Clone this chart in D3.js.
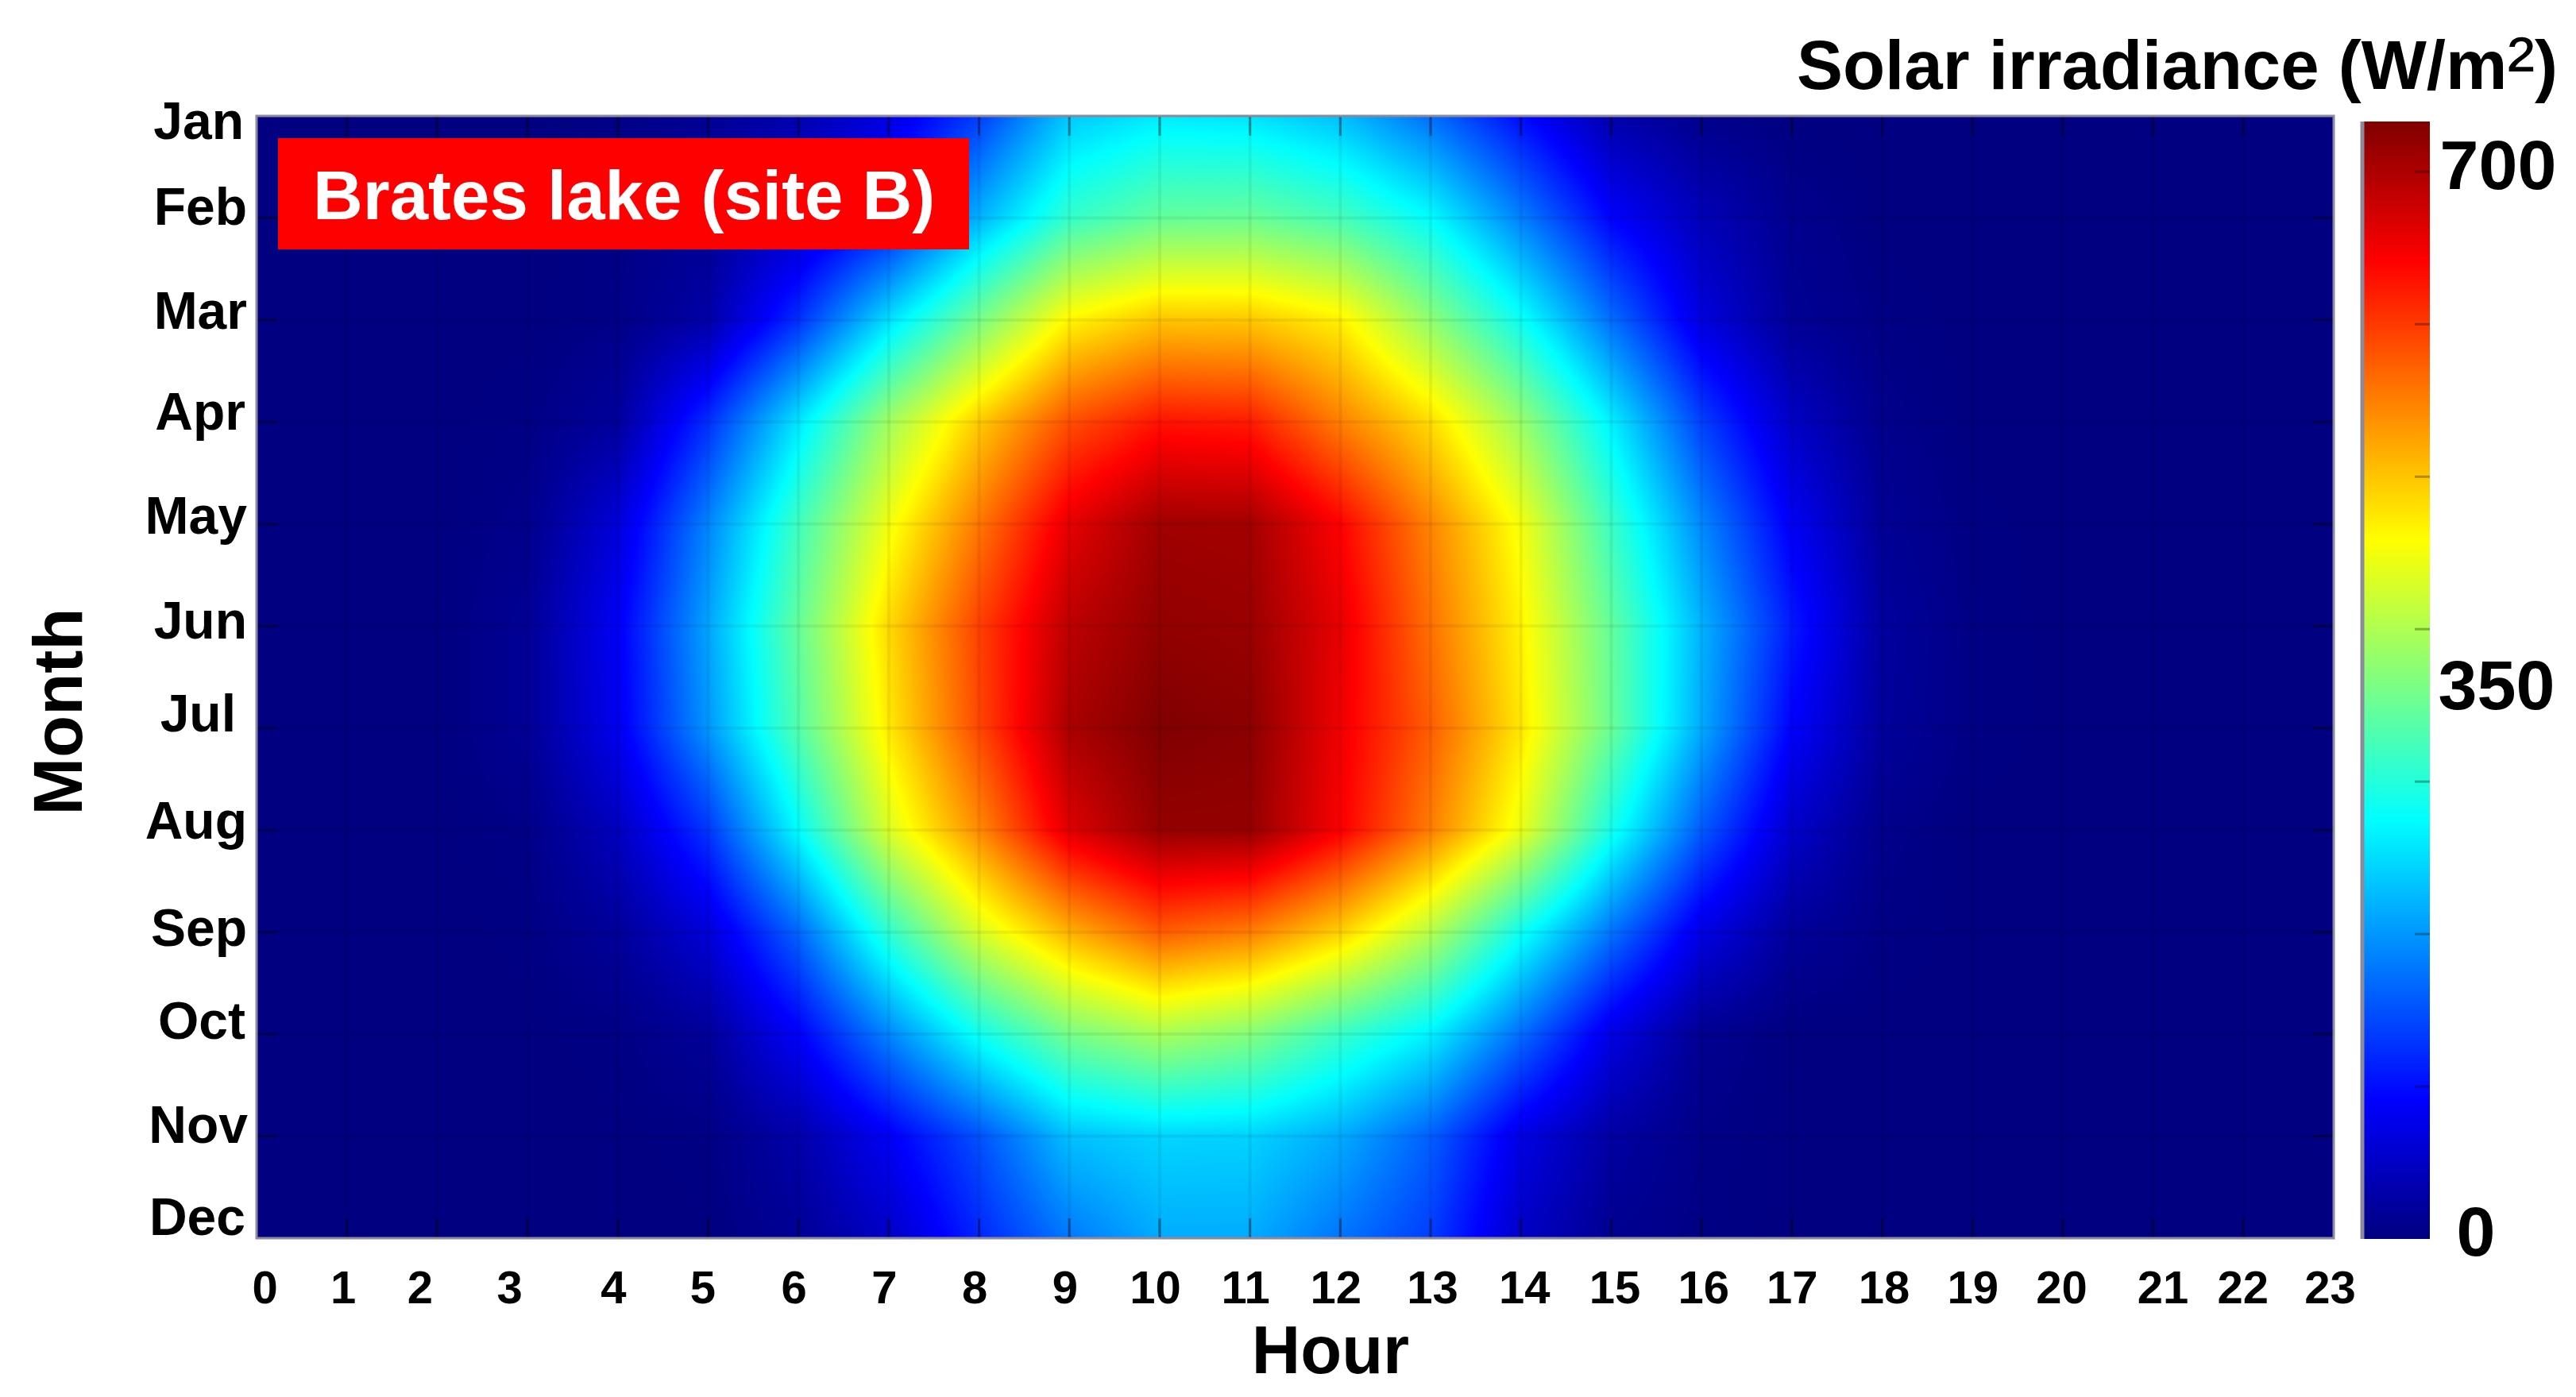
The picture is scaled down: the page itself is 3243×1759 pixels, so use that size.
<!DOCTYPE html>
<html>
<head>
<meta charset="utf-8">
<script src="https://cdn.jsdelivr.net/npm/d3@7"></script>
<style>
  html, body { margin: 0; padding: 0; background: #fff; }
  svg { display: block; }
  text { font-family: "Liberation Sans", Arial, sans-serif; font-weight: bold; fill: #000; }
</style>
</head>
<body>
<script>
const months = ["Jan", "Feb", "Mar", "Apr", "May", "Jun", "Jul", "Aug", "Sep", "Oct", "Nov", "Dec"];
const hours = d3.range(0, 24);
const colorbarTicks = [0, 100, 200, 300, 400, 500, 600, 700];
const colorbarLabels = [0, 350, 700];
const maxValue = 733;

// W/m2 for hours 0..23 at the grid crossings
const jan = [0, 0, 0, 0, 5, 15, 35, 70, 135, 235, 260, 255, 228, 170, 98, 30, 8, 0, 0, 0, 0, 0, 0, 0];
const feb = [0, 0, 0, 0, 3, 12, 45, 105, 220, 313, 347, 350, 325, 275, 184, 92, 40, 10, 0, 0, 0, 0, 0, 0];
const mar = [0, 0, 0, 0, 5, 28, 126, 253, 360, 465, 500, 498, 468, 377, 283, 171, 68, 15, 3, 0, 0, 0, 0, 0];
const apr = [0, 0, 0, 3, 20, 125, 258, 390, 496, 585, 628, 622, 550, 483, 385, 265, 138, 50, 8, 0, 0, 0, 0, 0];
const may = [0, 0, 0, 8, 64, 187, 321, 448, 556, 660, 710, 708, 641, 546, 450, 317, 190, 84, 15, 2, 0, 0, 0, 0];
const jun = [0, 0, 0, 15, 85, 210, 347, 485, 595, 690, 720, 715, 658, 560, 466, 346, 220, 110, 22, 3, 0, 0, 0, 0];
const jul = [0, 0, 0, 15, 80, 200, 335, 473, 590, 703, 733, 725, 652, 574, 475, 350, 214, 90, 20, 3, 0, 0, 0, 0];
const aug = [0, 0, 0, 5, 45, 130, 275, 431, 542, 665, 718, 718, 645, 551, 443, 290, 157, 53, 8, 0, 0, 0, 0, 0];
const sep = [0, 0, 0, 2, 18, 63, 165, 308, 429, 514, 575, 551, 491, 404, 285, 175, 72, 18, 3, 0, 0, 0, 0, 0];
const oct = [0, 0, 0, 0, 3, 18, 88, 187, 285, 360, 395, 370, 315, 265, 170, 72, 12, 0, 0, 0, 0, 0, 0, 0];
const nov = [0, 0, 0, 0, 0, 3, 30, 85, 150, 230, 245, 243, 215, 160, 72, 25, 5, 0, 0, 0, 0, 0, 0, 0];
const dec = [0, 0, 0, 0, 0, 0, 15, 50, 118, 178, 215, 215, 175, 135, 50, 12, 3, 0, 0, 0, 0, 0, 0, 0];
const irradiance = [jan, feb, mar, apr, may, jun, jul, aug, sep, oct, nov, dec];

// hand placed labels in the original, shift from the tick in px
const hourLabelShift = [10, -5, -22, -23, -6, -7, -6, -6, -6, -6, -6, -6, -6, 2, 4, 4, 2, 0, 2, 0, -2, 12, -1, -5];
const monthLabelShift = [28, 8, 11, 9, 12, 15, 4, 10, 17, 5, 8, -5];
const monthLabelEnd = [-16, -12, -12, -14, -12, -12, -26, -12, -12, -14, -11, -14];
const colorLabelShift = { 0: [58, 21], 350: [84, 5], 700: [86, 22] };

const width = 3243, height = 1759;
const plot = { left: 323, right: 2938, top: 146, bottom: 1559 };
const bar = { left: 2974, right: 3059, top: 153, bottom: 1560 };

const x = d3.scaleLinear().domain([0, 23]).range([plot.left, plot.right]);
const y = d3.scaleLinear().domain([0, 11]).range([plot.top, plot.bottom]);
const barY = d3.scaleLinear().domain([0, maxValue]).range([bar.bottom, bar.top]);

// jet
const jet = d3.scaleLinear()
    .domain([0, 0.125, 0.375, 0.625, 0.875, 1].map(function (d) { return d * maxValue; }))
    .range(["#000080", "#0000ff", "#00ffff", "#ffff00", "#ff0000", "#800000"])
    .clamp(true);

// bilinear between the grid crossings, like shading interp
function drawField() {
    const w = plot.right - plot.left, h = plot.bottom - plot.top;
    const canvas = document.createElement("canvas");
    canvas.width = w;
    canvas.height = h;
    const ctx = canvas.getContext("2d");
    const img = ctx.createImageData(w, h);

    for (let py = 0; py < h; py++) {
        const v = y.invert(plot.top + py + 0.5);
        const j = Math.min(Math.floor(v), 10);
        const fy = v - j;
        for (let px = 0; px < w; px++) {
            const u = x.invert(plot.left + px + 0.5);
            const i = Math.min(Math.floor(u), 22);
            const fx = u - i;
            const top = irradiance[j][i] * (1 - fx) + irradiance[j][i + 1] * fx;
            const bot = irradiance[j + 1][i] * (1 - fx) + irradiance[j + 1][i + 1] * fx;
            const col = d3.rgb(jet(top * (1 - fy) + bot * fy));
            const o = (py * w + px) * 4;
            img.data[o] = col.r;
            img.data[o + 1] = col.g;
            img.data[o + 2] = col.b;
            img.data[o + 3] = 255;
        }
    }
    ctx.putImageData(img, 0, 0);
    return canvas.toDataURL("image/png");
}

const svg = d3.select("body").append("svg")
    .attr("width", width)
    .attr("height", height);

svg.append("image")
    .attr("x", plot.left)
    .attr("y", plot.top)
    .attr("width", plot.right - plot.left)
    .attr("height", plot.bottom - plot.top)
    .attr("preserveAspectRatio", "none")
    .attr("href", drawField());

// faint grid
const grid = svg.append("g").attr("stroke", "#000").attr("stroke-opacity", 0.06).attr("stroke-width", 4);
grid.selectAll("line.v").data(hours.slice(1, 23)).enter().append("line")
    .attr("class", "v")
    .attr("x1", function (d) { return x(d); })
    .attr("x2", function (d) { return x(d); })
    .attr("y1", plot.top)
    .attr("y2", plot.bottom);
grid.selectAll("line.h").data(d3.range(1, 11)).enter().append("line")
    .attr("class", "h")
    .attr("y1", function (d) { return y(d); })
    .attr("y2", function (d) { return y(d); })
    .attr("x1", plot.left)
    .attr("x2", plot.right);

// inward ticks on all four sides
const ticks = svg.append("g").attr("stroke", "#000").attr("stroke-opacity", 0.38).attr("stroke-width", 3);
hours.slice(1, 23).forEach(function (d) {
    ticks.append("line").attr("x1", x(d)).attr("x2", x(d)).attr("y1", plot.bottom).attr("y2", plot.bottom - 25);
    ticks.append("line").attr("x1", x(d)).attr("x2", x(d)).attr("y1", plot.top).attr("y2", plot.top + 25);
});
d3.range(1, 11).forEach(function (d) {
    ticks.append("line").attr("y1", y(d)).attr("y2", y(d)).attr("x1", plot.left).attr("x2", plot.left + 26);
    ticks.append("line").attr("y1", y(d)).attr("y2", y(d)).attr("x1", plot.right).attr("x2", plot.right - 26);
});

svg.append("rect")
    .attr("x", plot.left)
    .attr("y", plot.top)
    .attr("width", plot.right - plot.left)
    .attr("height", plot.bottom - plot.top)
    .attr("fill", "none")
    .attr("stroke", "#8a8a9a")
    .attr("stroke-width", 3);

// hour axis
const xAxis = svg.append("g")
    .attr("transform", "translate(0," + plot.bottom + ")")
    .call(d3.axisBottom(x).tickValues(hours).tickFormat(d3.format("d")).tickSize(0));
xAxis.select(".domain").remove();
xAxis.selectAll("text")
    .attr("font-size", 58)
    .attr("dy", 0)
    .attr("y", 82)
    .attr("x", function (d) { return hourLabelShift[d]; });

// month axis
const yAxis = svg.append("g")
    .attr("transform", "translate(" + plot.left + ",0)")
    .call(d3.axisLeft(y).tickValues(d3.range(0, 12)).tickFormat(function (d) { return months[d]; }).tickSize(0));
yAxis.select(".domain").remove();
yAxis.selectAll("text")
    .attr("font-size", 66)
    .attr("dy", 0)
    .attr("y", function (d) { return monthLabelShift[d]; })
    .attr("x", function (d) { return monthLabelEnd[d]; });

svg.append("text")
    .attr("x", 1675)
    .attr("y", 1729)
    .attr("text-anchor", "middle")
    .attr("font-size", 85)
    .text("Hour");

svg.append("text")
    .attr("transform", "translate(103,896) rotate(-90)")
    .attr("text-anchor", "middle")
    .attr("font-size", 87)
    .text("Month");

// site tag
svg.append("rect")
    .attr("x", 350)
    .attr("y", 174)
    .attr("width", 870)
    .attr("height", 140)
    .attr("fill", "#ff0000");
svg.append("text")
    .attr("x", 394)
    .attr("y", 276)
    .attr("font-size", 87)
    .style("fill", "#fff")
    .text("Brates lake (site B)");

// colour bar
const grad = svg.append("defs").append("linearGradient")
    .attr("id", "jetBar")
    .attr("x1", 0).attr("x2", 0).attr("y1", 1).attr("y2", 0);
grad.selectAll("stop").data(jet.domain()).enter().append("stop")
    .attr("offset", function (d) { return d / maxValue; })
    .attr("stop-color", function (d) { return jet(d); });

svg.append("rect")
    .attr("x", bar.left)
    .attr("y", bar.top)
    .attr("width", bar.right - bar.left)
    .attr("height", bar.bottom - bar.top)
    .attr("fill", "url(#jetBar)");
svg.append("line")
    .attr("x1", bar.left).attr("x2", bar.left)
    .attr("y1", bar.top).attr("y2", bar.bottom)
    .attr("stroke", "#8a8a9a").attr("stroke-width", 5);

svg.append("g").selectAll("line").data(colorbarTicks.slice(1)).enter().append("line")
    .attr("x1", bar.right - 19)
    .attr("x2", bar.right)
    .attr("y1", function (d) { return barY(d); })
    .attr("y2", function (d) { return barY(d); })
    .attr("stroke", "#000")
    .attr("stroke-opacity", 0.3)
    .attr("stroke-width", 3);

svg.append("g").selectAll("text").data(colorbarLabels).enter().append("text")
    .attr("x", function (d) { return bar.right + colorLabelShift[d][0]; })
    .attr("y", function (d) { return barY(d) + colorLabelShift[d][1]; })
    .attr("text-anchor", "middle")
    .attr("font-size", 88)
    .text(function (d) { return d; });

const title = svg.append("text")
    .attr("x", 3220)
    .attr("y", 112)
    .attr("text-anchor", "end")
    .attr("font-size", 87)
    .text("Solar irradiance (W/m");
title.append("tspan").attr("font-size", 104).attr("font-weight", "normal").attr("dy", 6).text("²");
title.append("tspan").attr("dy", -6).text(")");
</script>
</body>
</html>
